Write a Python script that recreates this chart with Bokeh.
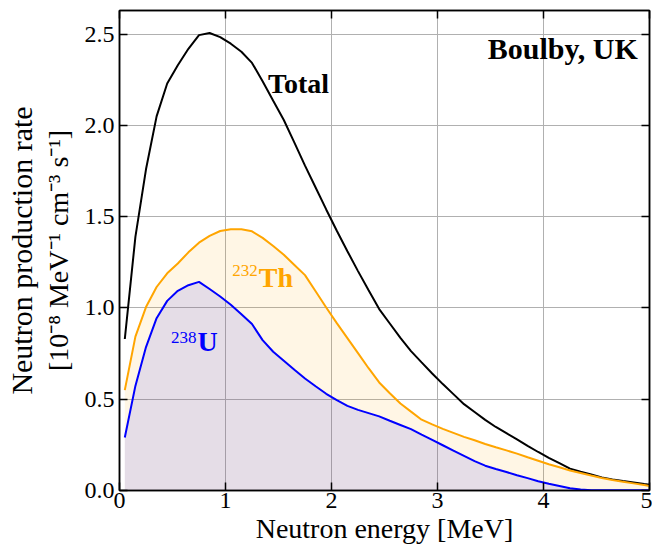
from math import pi
from bokeh.plotting import figure
from bokeh.models import (ColumnDataSource, Label, LinearAxis, FixedTicker, Range1d,
                          CustomJSTickFormatter, Title)
from bokeh.embed import file_html
from bokeh.resources import INLINE

# ---------------- data ----------------
energy = [0.05, 0.15, 0.25, 0.35, 0.45, 0.55, 0.65, 0.75, 0.85, 0.95,
          1.05, 1.15, 1.25, 1.35, 1.45, 1.55, 1.65, 1.75, 1.85, 1.95,
          2.05, 2.15, 2.25, 2.35, 2.45, 2.55, 2.65, 2.75, 2.85, 2.95,
          3.05, 3.15, 3.25, 3.35, 3.45, 3.55, 3.65, 3.75, 3.85, 3.95,
          4.05, 4.15, 4.25, 4.35, 4.45, 4.55, 4.65, 4.75, 4.85, 4.95, 5.0]
total = [0.83, 1.39, 1.76, 2.05, 2.23, 2.33, 2.42, 2.495, 2.507, 2.484,
         2.448, 2.404, 2.343, 2.242, 2.135, 2.03, 1.906, 1.78, 1.66, 1.54,
         1.423, 1.311, 1.202, 1.097, 0.994, 0.915, 0.836, 0.764, 0.702, 0.641,
         0.583, 0.528, 0.473, 0.43, 0.387, 0.348, 0.314, 0.28, 0.245, 0.211,
         0.179, 0.15, 0.12, 0.103, 0.088, 0.072, 0.061, 0.052, 0.044, 0.035, 0.031]
th232 = [0.55, 0.843, 1.005, 1.115, 1.19, 1.244, 1.305, 1.358, 1.395, 1.422,
         1.432, 1.432, 1.42, 1.384, 1.34, 1.292, 1.236, 1.18, 1.092, 1.003,
         0.917, 0.835, 0.753, 0.67, 0.592, 0.533, 0.477, 0.432, 0.388, 0.362,
         0.338, 0.316, 0.294, 0.275, 0.255, 0.237, 0.22, 0.202, 0.182, 0.163,
         0.144, 0.127, 0.11, 0.096, 0.082, 0.069, 0.057, 0.048, 0.039, 0.03, 0.025]
u238 = [0.29, 0.573, 0.786, 0.944, 1.039, 1.094, 1.125, 1.143, 1.104, 1.063,
        1.018, 0.966, 0.912, 0.824, 0.76, 0.711, 0.662, 0.614, 0.571, 0.53,
        0.495, 0.464, 0.442, 0.424, 0.406, 0.382, 0.359, 0.336, 0.306, 0.277,
        0.248, 0.219, 0.19, 0.161, 0.136, 0.118, 0.101, 0.084, 0.068, 0.051,
        0.037, 0.025, 0.012, 0.005, 0.002, 0.001, 0.001, 0.001, 0.001, 0.001, 0.001]

x_ticks = [0, 1, 2, 3, 4, 5]
x_tick_labels = ["0", "1", "2", "3", "4", "5"]
y_ticks = [0.0, 0.5, 1.0, 1.5, 2.0, 2.5]
y_tick_labels = ["0.0", "0.5", "1.0", "1.5", "2.0", "2.5"]

x_title = "Neutron energy [MeV]"
y_title_1 = "Neutron production rate"
y_title_2 = "[10\u207b\u2078 MeV\u207b\u00b9 cm\u207b\u00b3 s\u207b\u00b9]"
site_name = "Boulby, UK"

SERIF = "Liberation Serif"

src = ColumnDataSource(dict(E=energy, total=total, th=th232, u=u238))

p = figure(width=652, height=546, output_backend="svg", toolbar_location=None,
           x_range=Range1d(0, 5), y_range=Range1d(0, 2.63),
           min_border_left=119, min_border_right=3, min_border_top=10,
           min_border_bottom=56)

p.varea(x="E", y1=0, y2="th", source=src, fill_color="orange", fill_alpha=0.1)
p.varea(x="E", y1=0, y2="u", source=src, fill_color="blue", fill_alpha=0.1)
p.line("E", "total", source=src, line_color="black", line_width=2)
p.line("E", "th", source=src, line_color="orange", line_width=2)
p.line("E", "u", source=src, line_color="blue", line_width=2)

xt = FixedTicker(ticks=x_ticks)
yt = FixedTicker(ticks=y_ticks)
p.xaxis.ticker = xt
p.yaxis.ticker = yt
p.xaxis.major_label_overrides = {t: l for t, l in zip(x_ticks, x_tick_labels)}
p.yaxis.major_label_overrides = {t: l for t, l in zip(y_ticks, y_tick_labels)}

for ax in (p.xaxis[0], p.yaxis[0]):
    ax.major_tick_in = 8
    ax.major_tick_out = 0
    ax.minor_tick_line_color = None
    ax.axis_line_width = 1.5
    ax.major_tick_line_width = 1.5
    ax.major_label_text_font = SERIF
    ax.major_label_text_font_size = "24px"
    ax.major_label_text_color = "black"
    ax.axis_label_text_font = SERIF
    ax.axis_label_text_font_size = "28px"
    ax.axis_label_text_font_style = "normal"
    ax.axis_label_text_color = "black"

p.xaxis.major_label_standoff = 2
p.yaxis.major_label_standoff = 5
p.xaxis.axis_label = x_title
p.xaxis.axis_label_standoff = 2
p.yaxis.axis_label = y_title_2
p.yaxis.axis_label_standoff = 8

p.add_layout(Title(text=y_title_1, align="center", text_font=SERIF,
                   text_font_size="30px", text_font_style="normal",
                   text_color="black", standoff=3, offset=0), "left")

blank = CustomJSTickFormatter(code="return ''")
for loc, tk in (("right", yt), ("above", xt)):
    ax = LinearAxis(ticker=tk, formatter=blank, major_tick_in=8, major_tick_out=0,
                    minor_tick_line_color=None, axis_line_width=1.5,
                    major_tick_line_width=1.5, major_label_standoff=0,
                    major_label_text_font_size="1px")
    p.add_layout(ax, loc)

p.outline_line_color = "black"
p.outline_line_width = 1.5
p.xgrid.ticker = xt
p.ygrid.ticker = yt
p.grid.grid_line_color = "#b0b0b0"
p.grid.grid_line_width = 1

p.add_layout(Label(x=1.40, y=2.228, text="Total", text_font=SERIF, text_font_size="28px",
                   text_font_style="bold", text_color="black", text_baseline="alphabetic"))
p.add_layout(Label(x=4.89, y=2.42, text=site_name, text_font=SERIF, text_font_size="30px",
                   text_font_style="bold", text_color="black", text_align="right",
                   text_baseline="alphabetic"))
p.add_layout(Label(x=1.314, y=1.167, text="Th", text_font=SERIF, text_font_size="28px",
                   text_font_style="bold", text_color="orange", text_baseline="alphabetic"))
p.add_layout(Label(x=1.305, y=1.205, text="232", text_font=SERIF, text_font_size="17px",
                   text_color="orange", text_align="right", text_baseline="alphabetic"))
p.add_layout(Label(x=0.736, y=0.817, text="U", text_font=SERIF, text_font_size="28px",
                   text_font_style="bold", text_color="blue", text_baseline="alphabetic"))
p.add_layout(Label(x=0.727, y=0.839, text="238", text_font=SERIF, text_font_size="17px",
                   text_color="blue", text_align="right", text_baseline="alphabetic"))

open("out.html", "w").write(file_html(p, INLINE))
